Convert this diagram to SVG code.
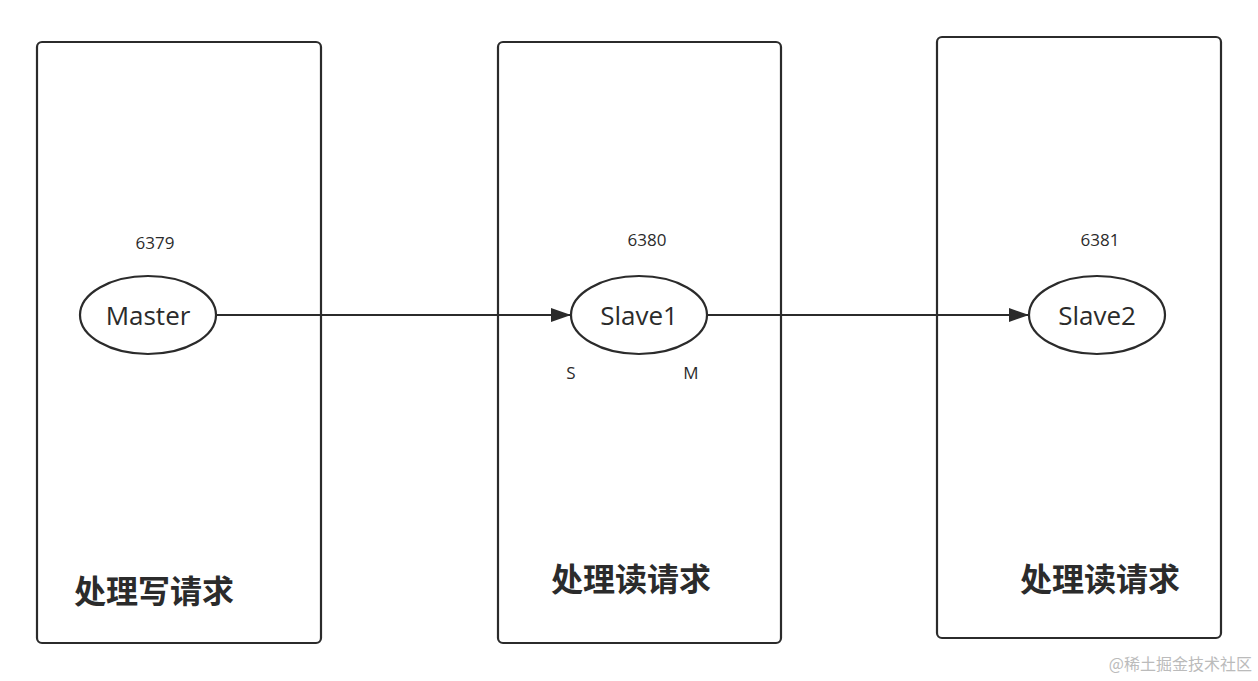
<svg xmlns="http://www.w3.org/2000/svg" width="1258" height="681" viewBox="0 0 1258 681">
<style>
.box{fill:#fff;stroke:#2b2b2b;stroke-width:2.2}
.ell{fill:#fff;stroke:#2b2b2b;stroke-width:2.2}
.lbl{font-family:"Open Sans","Noto Sans",sans-serif;font-size:26px;fill:#2b2b2b;text-anchor:middle}
.sm{font-family:"Open Sans","Noto Sans",sans-serif;font-size:17px;fill:#2b2b2b;text-anchor:middle}
.cn{font-family:"Noto Sans CJK SC",sans-serif;font-size:32px;font-weight:bold;fill:#2b2b2b;text-anchor:middle}
.ln{stroke:#2b2b2b;stroke-width:2.2;fill:none}
</style>
<defs><marker id="ah" markerWidth="20" markerHeight="14" refX="19" refY="7" orient="auto" markerUnits="userSpaceOnUse"><path d="M0,0L20,7L0,14Z" fill="#2b2b2b"/></marker></defs>
<rect width="1258" height="681" fill="#fff"/>
<g id="box1"><rect class="box" x="37" y="42" width="284" height="601" rx="5"/><text class="cn" x="154" y="603">处理写请求</text></g>
<g id="box2"><rect class="box" x="498" y="42" width="283" height="601" rx="5"/><text class="cn" x="631" y="591">处理读请求</text></g>
<g id="box3"><rect class="box" x="937" y="37" width="284" height="601" rx="5"/><text class="cn" x="1100" y="591">处理读请求</text></g>
<g id="connectors">
<line class="ln" x1="216" y1="315" x2="570" y2="315" marker-end="url(#ah)"/>
<line class="ln" x1="707" y1="315" x2="1028" y2="315" marker-end="url(#ah)"/>
</g>
<g id="master"><ellipse class="ell" cx="148" cy="315" rx="68" ry="39"/><text class="lbl" x="148" y="325">Master</text><text class="sm" x="155" y="249">6379</text></g>
<g id="slave1"><ellipse class="ell" cx="639" cy="315" rx="68" ry="39"/><text class="lbl" x="639" y="325">Slave1</text><text class="sm" x="647" y="246">6380</text><text class="sm" x="571" y="379">S</text><text class="sm" x="691" y="379">M</text></g>
<g id="slave2"><ellipse class="ell" cx="1097" cy="315" rx="68" ry="39"/><text class="lbl" x="1097" y="325">Slave2</text><text class="sm" x="1100" y="246">6381</text></g>
<text x="1252" y="670" font-family="Noto Sans CJK SC,sans-serif" font-size="16" fill="#bbb" text-anchor="end">@稀土掘金技术社区</text>
</svg>
